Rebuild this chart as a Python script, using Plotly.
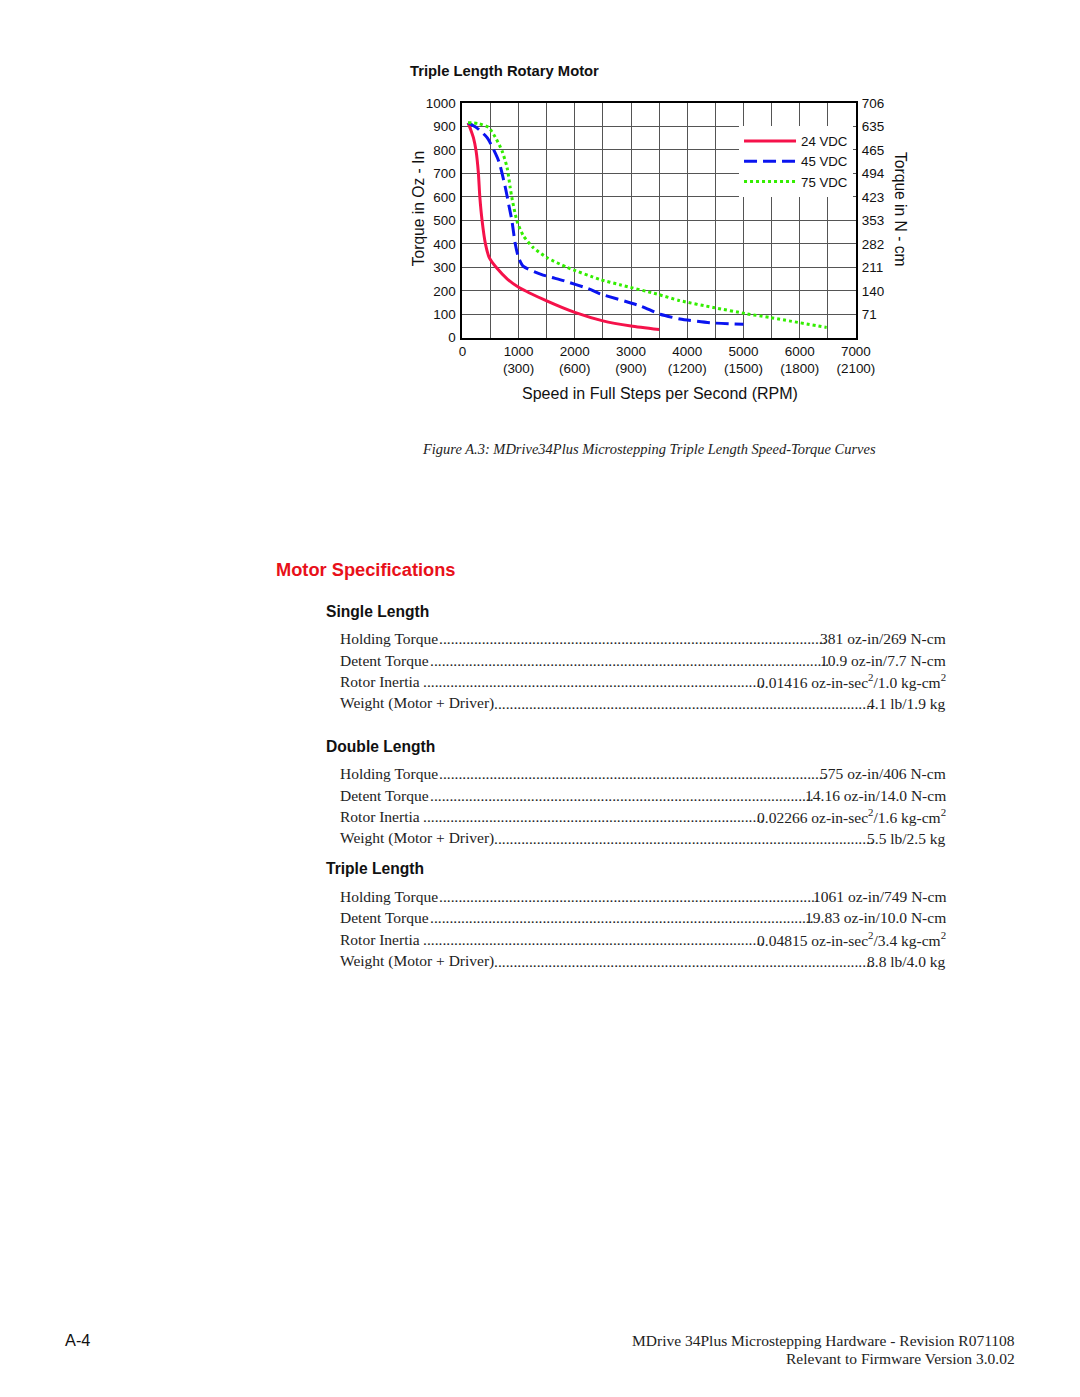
import re
import plotly.graph_objects as go

W, H = 1080, 1397

# ---------------- data ----------------
speed_24 = [100, 150, 196, 243, 284, 310, 350, 410, 480, 600, 800, 1000, 1500, 2000, 2500, 3000, 3500]
torque_24 = [915, 885, 852, 796, 703, 600, 500, 400, 340, 300, 250, 215, 157, 108, 72, 50, 35]

speed_45 = [100, 250, 440, 645, 764, 830, 880, 940, 1000, 1080, 1400, 1800, 2250, 2450, 3160, 3520, 3870, 4400, 5000]
torque_45 = [915, 895, 852, 753, 640, 560, 500, 400, 340, 305, 270, 243, 208, 187, 136, 100, 80, 64, 57]

speed_75 = [100, 290, 470, 590, 705, 795, 850, 880, 970, 1085, 1260, 1500, 1860, 2450, 2800, 3460, 3870, 4460, 5060, 5470, 6480]
torque_75 = [916, 912, 895, 852, 796, 725, 640, 597, 498, 434, 384, 342, 300, 248, 226, 186, 158, 129, 102, 86, 44]

series_names = ["24 VDC", "45 VDC", "75 VDC"]
series_colors = ["#f5124a", "#0a14f0", "#33ee00"]
series_dash = ["solid", "13px,6px", "3px,3px"]

x_tickvals = [0, 1000, 2000, 3000, 4000, 5000, 6000, 7000]
x_ticktext = ["0", "1000<br>(300)", "2000<br>(600)", "3000<br>(900)",
              "4000<br>(1200)", "5000<br>(1500)", "6000<br>(1800)", "7000<br>(2100)"]
x_minor_vals = [500, 1500, 2500, 3500, 4500, 5500, 6500]
y_tickvals = [0, 100, 200, 300, 400, 500, 600, 700, 800, 900, 1000]
y2_tickvals = [100, 200, 300, 400, 500, 600, 700, 800, 900, 1000]
y2_ticktext = ["71", "140", "211", "282", "353", "423", "494", "465", "635", "706"]

spec_groups = ["Single Length", "Double Length", "Triple Length"]
spec_labels = ["Holding Torque", "Detent Torque", "Rotor Inertia ", "Weight (Motor + Driver)"]
spec_values = [
    ["381 oz-in/269 N-cm", "10.9 oz-in/7.7 N-cm",
     "0.01416 oz-in-sec<sup>2</sup>/1.0 kg-cm<sup>2</sup>", "4.1 lb/1.9 kg"],
    ["575 oz-in/406 N-cm", "14.16 oz-in/14.0 N-cm",
     "0.02266 oz-in-sec<sup>2</sup>/1.6 kg-cm<sup>2</sup>", "5.5 lb/2.5 kg"],
    ["1061 oz-in/749 N-cm", "19.83 oz-in/10.0 N-cm",
     "0.04815 oz-in-sec<sup>2</sup>/3.4 kg-cm<sup>2</sup>", "8.8 lb/4.0 kg"],
]

# ---------------- layout helpers ----------------
# The photographed page shows the figure slightly reduced and offset; positions below are
# given in target-picture pixels and mapped back to figure pixels.
SX, OX, SY, OY = 0.98, 3.0, 0.99, 6.0

def fx(x):
    return (x - OX) / SX

def fy(y):
    return (y - OY) / SY

def px(x):
    return fx(x) / W

def py(y):
    return 1 - fy(y) / H

def fs(size):
    return size / SX

SANS = "Liberation Sans, Arial, sans-serif"
SERIF = "Liberation Serif, Times New Roman, serif"

_TW = {' ': 250, '.': 250, '(': 333, ')': 333, '+': 564, '-': 333, '/': 278,
       'A': 722, 'B': 667, 'C': 667, 'D': 722, 'E': 611, 'F': 556, 'G': 722, 'H': 722,
       'I': 333, 'M': 889, 'N': 722, 'R': 667, 'T': 611, 'W': 944,
       'a': 444, 'b': 500, 'c': 444, 'd': 500, 'e': 444, 'f': 333, 'g': 500, 'h': 500,
       'i': 278, 'k': 500, 'l': 278, 'm': 778, 'n': 500, 'o': 500, 'p': 500, 'q': 500,
       'r': 333, 's': 389, 't': 278, 'u': 500, 'v': 500, 'w': 722, 'x': 500, 'y': 500, 'z': 444}

def serif_width(text, size):
    total = 0.0
    for part in re.split(r"(<sup>.*?</sup>)", text):
        scale = 1.0
        if part.startswith("<sup>"):
            part = re.sub(r"</?sup>", "", part)
            scale = 0.7
        for ch in part:
            w = 500 if ch.isdigit() else _TW.get(ch, 500)
            total += w * scale
    return total * size / 1000.0

fig = go.Figure()
for name, xs, ys, col, dash in zip(series_names,
                                   [speed_24, speed_45, speed_75],
                                   [torque_24, torque_45, torque_75],
                                   series_colors, series_dash):
    fig.add_trace(go.Scatter(x=xs, y=ys, name=name, mode="lines",
                             line=dict(color=col, width=3, dash=dash, shape="spline", smoothing=0.6),
                             hoverinfo="skip"))

# invisible trace that carries the right-hand (N-cm) axis
fig.add_trace(go.Scatter(x=[0], y=[0], yaxis="y2", mode="markers",
                         marker=dict(opacity=0), showlegend=False, hoverinfo="skip"))

plot_x0, plot_x1 = 462, 856
plot_y0, plot_y1 = 102, 337
GRID = "#555"
TICK = fs(13.2)

fig.update_layout(
    width=W, height=H, autosize=False,
    margin=dict(l=0, r=0, t=0, b=0),
    paper_bgcolor="white", plot_bgcolor="white",
    font=dict(family=SANS, size=TICK, color="#111"),
    showlegend=True,
    legend=dict(x=px(739), y=py(125), xanchor="left", yanchor="top",
                bgcolor="white", borderwidth=0, itemwidth=52,
                font=dict(family=SANS, size=fs(13), color="#111"),
                tracegroupgap=0, itemclick=False, itemdoubleclick=False),
    xaxis=dict(domain=[px(plot_x0), px(plot_x1)], range=[0, 7000],
               tickmode="array", tickvals=x_tickvals, ticktext=x_ticktext,
               minor=dict(tickvals=x_minor_vals, showgrid=True, gridcolor=GRID, gridwidth=1, ticks=""),
               showgrid=True, gridcolor=GRID, gridwidth=1,
               showline=True, linecolor="black", linewidth=2, mirror=True,
               ticks="", ticklabelstandoff=0, zeroline=False,
               tickfont=dict(size=TICK, family=SANS, color="#111")),
    yaxis=dict(domain=[py(plot_y1), py(plot_y0)], range=[0, 1000],
               tickmode="array", tickvals=y_tickvals,
               showgrid=True, gridcolor=GRID, gridwidth=1,
               showline=True, linecolor="black", linewidth=2, mirror=True,
               ticks="", ticklabelstandoff=2, zeroline=False,
               tickfont=dict(size=TICK, family=SANS, color="#111")),
    yaxis2=dict(overlaying="y", side="right", range=[0, 1000],
                tickmode="array", tickvals=y2_tickvals, ticktext=y2_ticktext,
                showgrid=False, zeroline=False, showline=False, ticks="",
                ticklabelstandoff=5,
                tickfont=dict(size=TICK, family=SANS, color="#111")),
)

ann = []
# chart titles
ann.append(dict(x=px(408), y=py(70), text="<b>Triple Length Rotary Motor</b>",
                xanchor="left", yanchor="middle", font=dict(family=SANS, size=fs(14.5), color="#111")))
ann.append(dict(x=px(418), y=py(208), text="Torque in Oz - In", textangle=-90,
                xanchor="center", yanchor="middle", font=dict(family=SANS, size=fs(15.3), color="#111")))
ann.append(dict(x=px(900), y=py(209), text="Torque in N - cm", textangle=90,
                xanchor="center", yanchor="middle", font=dict(family=SANS, size=fs(15.3), color="#111")))
ann.append(dict(x=px(660), y=py(392), text="Speed in Full Steps per Second (RPM)",
                xanchor="center", yanchor="middle", font=dict(family=SANS, size=fs(15.7), color="#111")))
ann.append(dict(x=px(649), y=py(448),
                text="<i>Figure A.3: MDrive34Plus Microstepping Triple Length Speed-Torque Curves</i>",
                xanchor="center", yanchor="middle", font=dict(family=SERIF, size=fs(14.2), color="#222")))

# Motor specifications
ann.append(dict(x=px(273), y=py(569), text="<b>Motor Specifications</b>",
                xanchor="left", yanchor="middle", font=dict(family=SANS, size=fs(17.9), color="#e8101a")))

SPEC_SIZE = fs(15.2)
LABEL_X, VALUE_R = 338, 947
DOT_W = serif_width(".", SPEC_SIZE)
group_y = [611, 746, 868]
row_y = [[638, 660, 681, 703], [773, 795, 816, 838], [896, 917, 939, 961]]
for g, gy, rys, vals in zip(spec_groups, group_y, row_y, spec_values):
    ann.append(dict(x=px(323), y=py(gy), text="<b>" + g + "</b>", xanchor="left", yanchor="middle",
                    font=dict(family=SANS, size=fs(15.3), color="#111")))
    for lab, ry, val in zip(spec_labels, rys, vals):
        lab_r = fx(LABEL_X) + serif_width(lab, SPEC_SIZE)          # figure pixels
        val_l = fx(VALUE_R) - serif_width(val, SPEC_SIZE)
        n_dots = int((val_l - lab_r - 6) // DOT_W)
        ann.append(dict(x=px(LABEL_X), y=py(ry), text=lab, xanchor="left", yanchor="middle",
                        borderpad=0, font=dict(family=SERIF, size=SPEC_SIZE, color="#222")))
        ann.append(dict(x=(lab_r + 2) / W, y=py(ry), text="." * n_dots, xanchor="left", yanchor="middle",
                        borderpad=0, font=dict(family=SERIF, size=SPEC_SIZE, color="#222")))
        ann.append(dict(x=px(VALUE_R), y=py(ry), text=val, xanchor="right", yanchor="middle",
                        borderpad=0, font=dict(family=SERIF, size=SPEC_SIZE, color="#222")))

# footer
ann.append(dict(x=px(62), y=py(1340), text="A-4", xanchor="left", yanchor="middle",
                font=dict(family=SANS, size=fs(16), color="#111")))
ann.append(dict(x=px(1017), y=py(1340), text="MDrive 34Plus Microstepping Hardware - Revision R071108",
                xanchor="right", yanchor="middle", font=dict(family=SERIF, size=fs(15.2), color="#222")))
ann.append(dict(x=px(1017), y=py(1359), text="Relevant to Firmware Version 3.0.02",
                xanchor="right", yanchor="middle", font=dict(family=SERIF, size=fs(15.2), color="#222")))

for a in ann:
    a.update(xref="paper", yref="paper", showarrow=False)
fig.update_layout(annotations=ann)

fig.write_html("out.html")
